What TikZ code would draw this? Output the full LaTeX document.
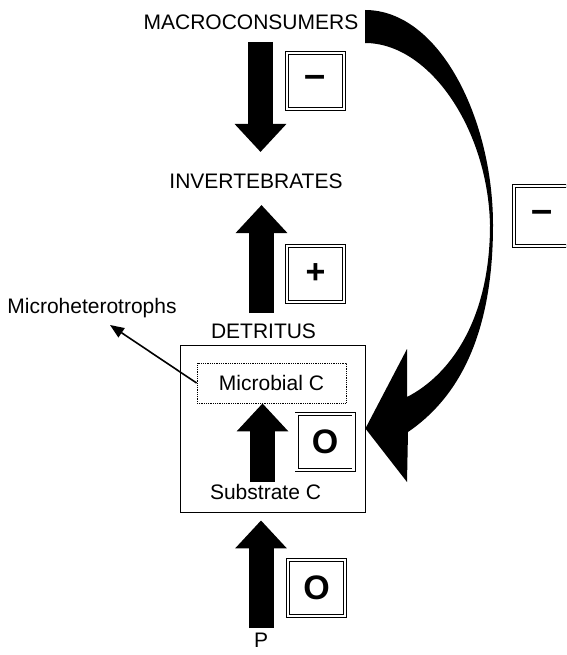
\documentclass[tikz,border=0pt]{standalone}
\usepackage{fontspec}
\setmainfont{Liberation Sans}
\usetikzlibrary{arrows.meta,positioning,calc}

\begin{document}
\begin{tikzpicture}[x=1pt, y=-1pt,
    txt/.style={font=\fontsize{21}{25}\selectfont},
    lbl/.style={txt, inner sep=0, anchor=base},
    sign/.style={draw, double, line width=0.8pt, double distance=2.4pt,
        minimum width=57pt, minimum height=56pt, inner sep=0,
        font=\fontsize{34}{36}\selectfont\bfseries},
    bigarrow/.style={line width=25pt, -{Triangle[width=50pt, length=28pt]}},
    thinarrow/.style={line width=1.6pt, -{Triangle[width=11pt, length=14pt]}}]
    \clip (0,0) rectangle (566,655);

    % levels
    \node (macro) [lbl] at (251,30) {MACROCONSUMERS};
    \node (invert) [lbl] at (256,188) {INVERTEBRATES};
    \node (detritus) [lbl] at (263.5,338) {DETRITUS};
    \node (microhet) [lbl] at (92,313) {Microheterotrophs};
    \node (detbox) [draw, line width=0.8pt, minimum width=185pt, minimum height=167pt] at (272.5,428.5) {};
    \node (microbial) [draw, densely dotted, line width=0.8pt, txt, inner sep=0,
        minimum width=149pt, minimum height=40pt] at (271.5,383) {Microbial C};
    \node (substrate) [lbl] at (265.5,499) {Substrate C};
    \node (p) [lbl] at (261,647) {P};

    % signs
    \node (minustop) [sign, font=\fontsize{38}{40}\selectfont\bfseries] at (315.5,81) {–};
    \node (plus) [sign] at (315.5,274) {+};
    \node (zeroin) [sign] at (325,442) {O};
    \node (zerop) [sign] at (316.5,588) {O};
    \node (minusside) [sign, minimum height=60pt, font=\fontsize{38}{40}\selectfont\bfseries] at (542.5,216) {–};

    % flows
    \draw[bigarrow] ([xshift=9.5pt, yshift=-12pt]macro.base) -- ([xshift=4.5pt, yshift=36pt]invert.base);
    \draw[bigarrow] ([xshift=-2pt, yshift=25pt]detritus.base) -- ([xshift=5.5pt, yshift=-17pt]invert.base);
    \draw[bigarrow] ([xshift=-3pt, yshift=17pt]substrate.base) -- ([xshift=-9pt]microbial.south);
    \draw[bigarrow] ([yshift=19pt]p.base) -- ([xshift=-11.5pt, yshift=-8pt]detbox.south);
    \draw[thinarrow] (microbial.west) -- ([xshift=18pt, yshift=-12pt]microhet.base);

    % curved arrow from the consumers to the detritus
    \fill (365,10) .. controls (440,10) and (493,120) .. (493,225)
        .. controls (493,340) and (455,400) .. (408,432)
        -- (407,482) -- (detbox.east) -- (407,349) -- (407,397)
        .. controls (450,375) and (490,320) .. (490,225)
        .. controls (488,130) and (430,43) .. (365,43) -- cycle;
\end{tikzpicture}
\end{document}
